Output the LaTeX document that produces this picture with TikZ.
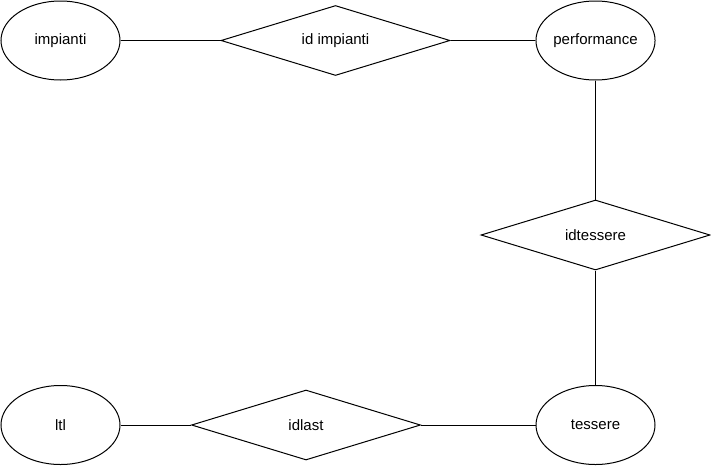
\documentclass[tikz,border=0pt]{standalone}
\usepackage{fontspec}
\setmainfont{Liberation Sans}
\usetikzlibrary{shapes.geometric}
\tikzset{
  entity/.style={ellipse, draw=black, line width=1pt, minimum width=119pt, minimum height=79pt, inner sep=0pt},
  relation/.style={diamond, aspect=3.3, draw=black, line width=1pt, minimum width=229pt, minimum height=70pt, inner sep=0pt},
  link/.style={line width=1pt}
}
\begin{document}
\begin{tikzpicture}[x=1pt,y=-1pt,font=\fontsize{15}{18}\selectfont]
\useasboundingbox (0,0) rectangle (711,466);
\node[entity] (impianti) at (60.5,40.5) {impianti};
\node[relation] (idimpianti) at (335.5,40.5) {id impianti};
\node[entity] (performance) at (595.5,40.5) {performance};
\node[relation] (idtessere) at (595.5,235) {idtessere};
\node[entity] (ltl) at (60.5,425) {ltl};
\node[relation] (idlast) at (306,425) {idlast};
\node[entity] (tessere) at (595.5,425) {tessere};
\draw[link] (impianti)--(idimpianti)--(performance);
\draw[link] (performance)--(idtessere)--(tessere);
\draw[link] (tessere)--(idlast)--(ltl);
\end{tikzpicture}
\end{document}
